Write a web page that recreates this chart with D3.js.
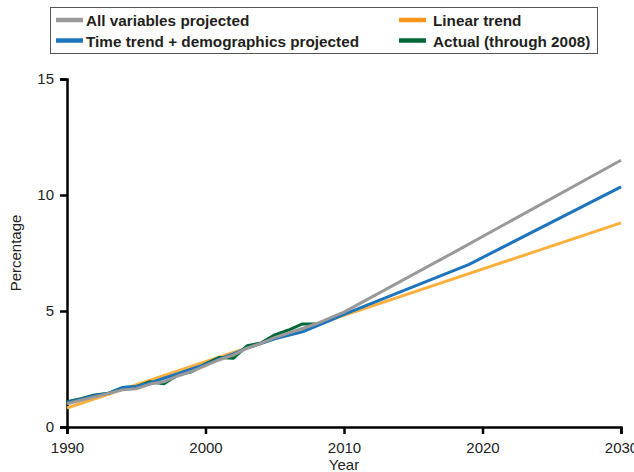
<!DOCTYPE html>
<html lang="en">
<head>
<meta charset="UTF-8">
<title>Projected percentage</title>
<style>
    body { margin: 0; background: #fff; font-family: "Liberation Sans", Arial, sans-serif; }
    .axis path, .axis line { stroke: #000; stroke-width: 2.5; }
    .axis text { font-size: 15px; fill: #222; font-family: "Liberation Sans", Arial, sans-serif; }
</style>
</head>
<body>
<div id="chart"></div>
<script src="https://d3js.org/d3.v7.min.js"></script>
<script>
// Data
var actualYears = [1990, 1991, 1992, 1993, 1994, 1995, 1996, 1997, 1998, 1999, 2000, 2001, 2002, 2003, 2004, 2005, 2006, 2007, 2008];
var actualValues = [1.09, 1.22, 1.38, 1.45, 1.70, 1.74, 1.95, 1.86, 2.24, 2.38, 2.72, 3.00, 2.96, 3.50, 3.62, 3.97, 4.18, 4.44, 4.44];

var demoYears = [1990, 1991, 1992, 1993, 1994, 1995, 1996, 1997, 1998, 1999, 2000, 2001, 2002, 2003, 2004, 2005, 2006, 2007, 2008, 2009, 2010, 2019, 2030];
var demoValues = [1.05, 1.2, 1.35, 1.45, 1.7, 1.75, 1.9, 2.1, 2.3, 2.5, 2.7, 2.92, 3.15, 3.4, 3.6, 3.8, 3.95, 4.1, 4.35, 4.6, 4.85, 7.0, 10.35];

var allYears = [1990, 1991, 1992, 1993, 1994, 1995, 1996, 1997, 1998, 1999, 2000, 2001, 2002, 2003, 2004, 2005, 2006, 2007, 2008, 2009, 2010, 2018, 2030];
var allValues = [1.0, 1.15, 1.3, 1.45, 1.6, 1.65, 1.85, 1.95, 2.2, 2.4, 2.65, 2.9, 3.1, 3.4, 3.6, 3.85, 4.05, 4.25, 4.45, 4.7, 4.95, 7.55, 11.5];

var linearYears = [1990, 2030];
var linearValues = [0.82, 8.8];

var xTicks = [1990, 2000, 2010, 2020, 2030];
var yTicks = [0, 5, 10, 15];

var legendItems = [
    { name: "All variables projected", color: "#999999", col: 0, row: 0 },
    { name: "Linear trend", color: "#f7941d", col: 1, row: 0 },
    { name: "Time trend + demographics projected", color: "#1c75bc", col: 0, row: 1 },
    { name: "Actual (through 2008)", color: "#006838", col: 1, row: 1 }
];

var width = 634, height = 472;
var margin = { top: 79, right: 13, bottom: 45, left: 67 };

var svg = d3.select("#chart").append("svg")
    .attr("width", width)
    .attr("height", height);

var x = d3.scaleLinear().domain([1990, 2030]).range([margin.left, width - margin.right]);
var y = d3.scaleLinear().domain([0, 15]).range([height - margin.bottom, margin.top]);

// axes
svg.append("g")
    .attr("class", "axis")
    .attr("transform", "translate(0," + y(0) + ")")
    .call(d3.axisBottom(x).tickValues(xTicks).tickFormat(d3.format("d")).tickSizeOuter(0).tickSize(7).tickPadding(8));

svg.append("g")
    .attr("class", "axis")
    .attr("transform", "translate(" + x(1990) + ",0)")
    .call(d3.axisLeft(y).tickValues(yTicks).tickSizeOuter(0).tickSize(7).tickPadding(6));

svg.append("text")
    .attr("x", (x(1990) + x(2030)) / 2)
    .attr("y", 470)
    .attr("text-anchor", "middle")
    .attr("font-size", "15px")
    .attr("fill", "#222")
    .text("Year");

svg.append("text")
    .attr("transform", "translate(21," + ((y(0) + y(15)) / 2) + ") rotate(-90)")
    .attr("text-anchor", "middle")
    .attr("font-size", "15px")
    .attr("fill", "#222")
    .text("Percentage");

// lines
var line = d3.line()
    .x(function(d) { return x(d[0]); })
    .y(function(d) { return y(d[1]); });

function pairs(xs, vs) {
    return xs.map(function(d, i) { return [d, vs[i]]; });
}

var series = [
    { data: pairs(linearYears, linearValues), color: "#fbb040" },
    { data: pairs(actualYears, actualValues), color: "#006838" },
    { data: pairs(demoYears, demoValues), color: "#1c75bc" },
    { data: pairs(allYears, allValues), color: "#999999" }
];

svg.selectAll(".series")
    .data(series)
    .enter()
    .append("path")
    .attr("class", "series")
    .attr("d", function(d) { return line(d.data); })
    .attr("fill", "none")
    .attr("stroke", function(d) { return d.color; })
    .attr("stroke-width", 3)
    .attr("stroke-linejoin", "round");

// legend box
svg.append("rect")
    .attr("x", 50.5)
    .attr("y", 7.5)
    .attr("width", 547)
    .attr("height", 46)
    .attr("fill", "#fff")
    .attr("stroke", "#555")
    .attr("stroke-width", 1);

var legend = svg.selectAll(".legend")
    .data(legendItems)
    .enter()
    .append("g")
    .attr("class", "legend")
    .attr("transform", function(d) {
        return "translate(" + (d.col ? 399 : 56) + "," + (20 + d.row * 20.5) + ")";
    });

legend.append("rect")
    .attr("x", 0)
    .attr("y", -2.25)
    .attr("width", 27)
    .attr("height", 4.5)
    .attr("fill", function(d) { return d.color; });

legend.append("text")
    .attr("x", function(d) { return d.col ? 34 : 30; })
    .attr("y", 1)
    .attr("dy", "0.35em")
    .attr("font-size", "15.3px")
    .attr("font-weight", "bold")
    .attr("fill", "#231f20")
    .text(function(d) { return d.name; });
</script>
</body>
</html>
